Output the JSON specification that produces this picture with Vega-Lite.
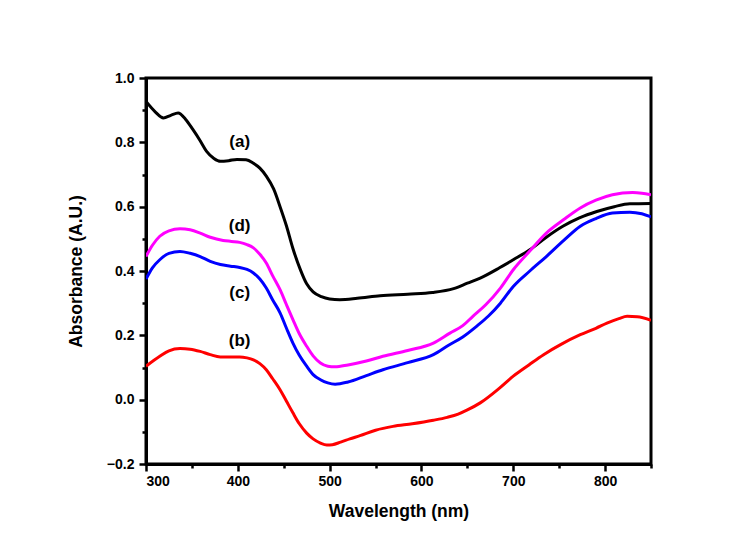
{
  "$schema": "https://vega.github.io/schema/vega-lite/v6.json",
  "autosize": {"type": "none"},
  "width": 505,
  "height": 386,
  "padding": {"left": 146, "top": 78, "right": 96, "bottom": 87},
  "background": "white",
  "config": {
    "font": "Liberation Sans",
    "view": {"stroke": "black", "strokeWidth": 3},
    "axis": {
      "domainColor": "black", "domainWidth": 3, "tickColor": "black", "tickWidth": 2.5,
      "labelFont": "Liberation Sans", "labelFontWeight": "bold", "labelFontSize": 14, "labelColor": "black",
      "titleFont": "Liberation Sans", "titleFontWeight": "bold", "titleFontSize": 17.5, "titleColor": "black",
      "grid": false
    }
  },
  "datasets": {
    "curves": [
      {"wl":300,"A":0.927,"s":"a"},{"wl":310,"A":0.895,"s":"a"},{"wl":319,"A":0.876,"s":"a"},{"wl":327,"A":0.884,"s":"a"},{"wl":335,"A":0.891,"s":"a"},{"wl":343,"A":0.872,"s":"a"},{"wl":351,"A":0.84,"s":"a"},{"wl":359,"A":0.805,"s":"a"},{"wl":366,"A":0.772,"s":"a"},{"wl":374,"A":0.75,"s":"a"},{"wl":381,"A":0.741,"s":"a"},{"wl":390,"A":0.743,"s":"a"},{"wl":399,"A":0.747,"s":"a"},{"wl":409,"A":0.746,"s":"a"},{"wl":417,"A":0.735,"s":"a"},{"wl":424,"A":0.72,"s":"a"},{"wl":431,"A":0.695,"s":"a"},{"wl":439,"A":0.655,"s":"a"},{"wl":446,"A":0.6,"s":"a"},{"wl":453,"A":0.54,"s":"a"},{"wl":460,"A":0.47,"s":"a"},{"wl":468,"A":0.405,"s":"a"},{"wl":475,"A":0.36,"s":"a"},{"wl":482,"A":0.335,"s":"a"},{"wl":491,"A":0.32,"s":"a"},{"wl":500,"A":0.313,"s":"a"},{"wl":511,"A":0.311,"s":"a"},{"wl":530,"A":0.315,"s":"a"},{"wl":555,"A":0.323,"s":"a"},{"wl":585,"A":0.328,"s":"a"},{"wl":612,"A":0.333,"s":"a"},{"wl":635,"A":0.345,"s":"a"},{"wl":650,"A":0.362,"s":"a"},{"wl":664,"A":0.378,"s":"a"},{"wl":685,"A":0.41,"s":"a"},{"wl":700,"A":0.435,"s":"a"},{"wl":718,"A":0.466,"s":"a"},{"wl":736,"A":0.505,"s":"a"},{"wl":754,"A":0.539,"s":"a"},{"wl":772,"A":0.565,"s":"a"},{"wl":791,"A":0.585,"s":"a"},{"wl":810,"A":0.6,"s":"a"},{"wl":827,"A":0.609,"s":"a"},{"wl":850,"A":0.61,"s":"a"},
      {"wl":300,"A":0.104,"s":"b"},{"wl":315,"A":0.135,"s":"b"},{"wl":325,"A":0.152,"s":"b"},{"wl":337,"A":0.159,"s":"b"},{"wl":348,"A":0.157,"s":"b"},{"wl":359,"A":0.15,"s":"b"},{"wl":370,"A":0.14,"s":"b"},{"wl":381,"A":0.133,"s":"b"},{"wl":392,"A":0.133,"s":"b"},{"wl":402,"A":0.133,"s":"b"},{"wl":410,"A":0.13,"s":"b"},{"wl":417,"A":0.124,"s":"b"},{"wl":424,"A":0.112,"s":"b"},{"wl":431,"A":0.093,"s":"b"},{"wl":438,"A":0.065,"s":"b"},{"wl":446,"A":0.031,"s":"b"},{"wl":453,"A":-0.005,"s":"b"},{"wl":460,"A":-0.041,"s":"b"},{"wl":467,"A":-0.075,"s":"b"},{"wl":475,"A":-0.104,"s":"b"},{"wl":482,"A":-0.122,"s":"b"},{"wl":490,"A":-0.135,"s":"b"},{"wl":497,"A":-0.141,"s":"b"},{"wl":503,"A":-0.14,"s":"b"},{"wl":512,"A":-0.132,"s":"b"},{"wl":522,"A":-0.122,"s":"b"},{"wl":533,"A":-0.112,"s":"b"},{"wl":550,"A":-0.095,"s":"b"},{"wl":569,"A":-0.083,"s":"b"},{"wl":590,"A":-0.075,"s":"b"},{"wl":613,"A":-0.064,"s":"b"},{"wl":628,"A":-0.055,"s":"b"},{"wl":640,"A":-0.045,"s":"b"},{"wl":650,"A":-0.032,"s":"b"},{"wl":664,"A":-0.01,"s":"b"},{"wl":685,"A":0.036,"s":"b"},{"wl":700,"A":0.073,"s":"b"},{"wl":717,"A":0.108,"s":"b"},{"wl":733,"A":0.14,"s":"b"},{"wl":752,"A":0.172,"s":"b"},{"wl":773,"A":0.202,"s":"b"},{"wl":790,"A":0.222,"s":"b"},{"wl":802,"A":0.238,"s":"b"},{"wl":815,"A":0.252,"s":"b"},{"wl":824,"A":0.259,"s":"b"},{"wl":835,"A":0.258,"s":"b"},{"wl":850,"A":0.247,"s":"b"},
      {"wl":300,"A":0.375,"s":"c"},{"wl":307,"A":0.41,"s":"c"},{"wl":315,"A":0.435,"s":"c"},{"wl":325,"A":0.455,"s":"c"},{"wl":337,"A":0.461,"s":"c"},{"wl":348,"A":0.455,"s":"c"},{"wl":359,"A":0.445,"s":"c"},{"wl":370,"A":0.43,"s":"c"},{"wl":381,"A":0.42,"s":"c"},{"wl":392,"A":0.415,"s":"c"},{"wl":402,"A":0.411,"s":"c"},{"wl":410,"A":0.405,"s":"c"},{"wl":417,"A":0.394,"s":"c"},{"wl":424,"A":0.375,"s":"c"},{"wl":431,"A":0.347,"s":"c"},{"wl":438,"A":0.31,"s":"c"},{"wl":446,"A":0.27,"s":"c"},{"wl":453,"A":0.222,"s":"c"},{"wl":460,"A":0.176,"s":"c"},{"wl":467,"A":0.138,"s":"c"},{"wl":475,"A":0.104,"s":"c"},{"wl":482,"A":0.078,"s":"c"},{"wl":490,"A":0.062,"s":"c"},{"wl":498,"A":0.052,"s":"c"},{"wl":506,"A":0.048,"s":"c"},{"wl":520,"A":0.055,"s":"c"},{"wl":540,"A":0.075,"s":"c"},{"wl":558,"A":0.093,"s":"c"},{"wl":585,"A":0.115,"s":"c"},{"wl":613,"A":0.14,"s":"c"},{"wl":630,"A":0.17,"s":"c"},{"wl":645,"A":0.195,"s":"c"},{"wl":660,"A":0.228,"s":"c"},{"wl":673,"A":0.26,"s":"c"},{"wl":686,"A":0.3,"s":"c"},{"wl":700,"A":0.352,"s":"c"},{"wl":718,"A":0.4,"s":"c"},{"wl":736,"A":0.445,"s":"c"},{"wl":755,"A":0.495,"s":"c"},{"wl":773,"A":0.539,"s":"c"},{"wl":790,"A":0.563,"s":"c"},{"wl":808,"A":0.58,"s":"c"},{"wl":827,"A":0.583,"s":"c"},{"wl":840,"A":0.578,"s":"c"},{"wl":850,"A":0.568,"s":"c"},
      {"wl":300,"A":0.445,"s":"d"},{"wl":307,"A":0.48,"s":"d"},{"wl":315,"A":0.508,"s":"d"},{"wl":325,"A":0.525,"s":"d"},{"wl":337,"A":0.531,"s":"d"},{"wl":348,"A":0.528,"s":"d"},{"wl":359,"A":0.518,"s":"d"},{"wl":370,"A":0.505,"s":"d"},{"wl":384,"A":0.495,"s":"d"},{"wl":393,"A":0.492,"s":"d"},{"wl":402,"A":0.489,"s":"d"},{"wl":410,"A":0.482,"s":"d"},{"wl":417,"A":0.472,"s":"d"},{"wl":424,"A":0.452,"s":"d"},{"wl":431,"A":0.425,"s":"d"},{"wl":438,"A":0.385,"s":"d"},{"wl":446,"A":0.342,"s":"d"},{"wl":453,"A":0.295,"s":"d"},{"wl":460,"A":0.249,"s":"d"},{"wl":467,"A":0.205,"s":"d"},{"wl":475,"A":0.166,"s":"d"},{"wl":482,"A":0.136,"s":"d"},{"wl":490,"A":0.114,"s":"d"},{"wl":498,"A":0.104,"s":"d"},{"wl":506,"A":0.102,"s":"d"},{"wl":520,"A":0.108,"s":"d"},{"wl":540,"A":0.12,"s":"d"},{"wl":558,"A":0.135,"s":"d"},{"wl":585,"A":0.153,"s":"d"},{"wl":613,"A":0.176,"s":"d"},{"wl":631,"A":0.207,"s":"d"},{"wl":645,"A":0.23,"s":"d"},{"wl":656,"A":0.259,"s":"d"},{"wl":670,"A":0.295,"s":"d"},{"wl":686,"A":0.347,"s":"d"},{"wl":700,"A":0.404,"s":"d"},{"wl":718,"A":0.462,"s":"d"},{"wl":736,"A":0.518,"s":"d"},{"wl":755,"A":0.56,"s":"d"},{"wl":773,"A":0.596,"s":"d"},{"wl":790,"A":0.62,"s":"d"},{"wl":808,"A":0.637,"s":"d"},{"wl":830,"A":0.644,"s":"d"},{"wl":840,"A":0.642,"s":"d"},{"wl":850,"A":0.637,"s":"d"}
    ],
    "labels": [
      {"wl":402,"A":0.802,"t":"(a)"},
      {"wl":402,"A":0.541,"t":"(d)"},
      {"wl":402,"A":0.333,"t":"(c)"},
      {"wl":402,"A":0.183,"t":"(b)"}
    ]
  },
  "encoding": {
    "x": {"field":"wl","type":"quantitative","scale":{"domain":[300,850],"nice":false,"zero":false},
      "axis":{"title":"Wavelength (nm)","values":[300,350,400,450,500,550,600,650,700,750,800,850],
        "labelExpr":"datum.value % 100 == 0 && datum.value < 850 ? datum.label : ''",
        "tickSize":{"condition":{"test":"datum.value % 100 == 0","value":7},"value":4},
        "labelPadding":3,"titlePadding":14,"format":"d"}},
    "y": {"field":"A","type":"quantitative","scale":{"domain":[-0.2,1.0],"nice":false,"zero":false},
      "axis":{"title":"Absorbance (A.U.)","values":[-0.2,-0.1,0,0.1,0.2,0.3,0.4,0.5,0.6,0.7,0.8,0.9,1.0],
        "format":".1f",
        "labelExpr":"abs(round(datum.value*10)) % 2 == 0 ? datum.label : ''",
        "tickSize":{"condition":{"test":"abs(round(datum.value*10)) % 2 == 0","value":7},"value":4},
        "labelPadding":5,"titlePadding":21}}
  },
  "layer": [
    {
      "data": {"name":"curves"},
      "mark": {"type":"line","strokeWidth":3,"interpolate":"monotone","clip":true},
      "encoding": {
        "color": {"field":"s","type":"nominal","scale":{"domain":["a","b","c","d"],"range":["#000000","#ff0000","#0000ff","#ff00ff"]},"legend":null}
      }
    },
    {
      "data": {"name":"labels"},
      "mark": {"type":"text","font":"Liberation Sans","fontWeight":"bold","fontSize":17,"color":"black","align":"center","baseline":"middle"},
      "encoding": {"text":{"field":"t","type":"nominal"}}
    }
  ]
}
